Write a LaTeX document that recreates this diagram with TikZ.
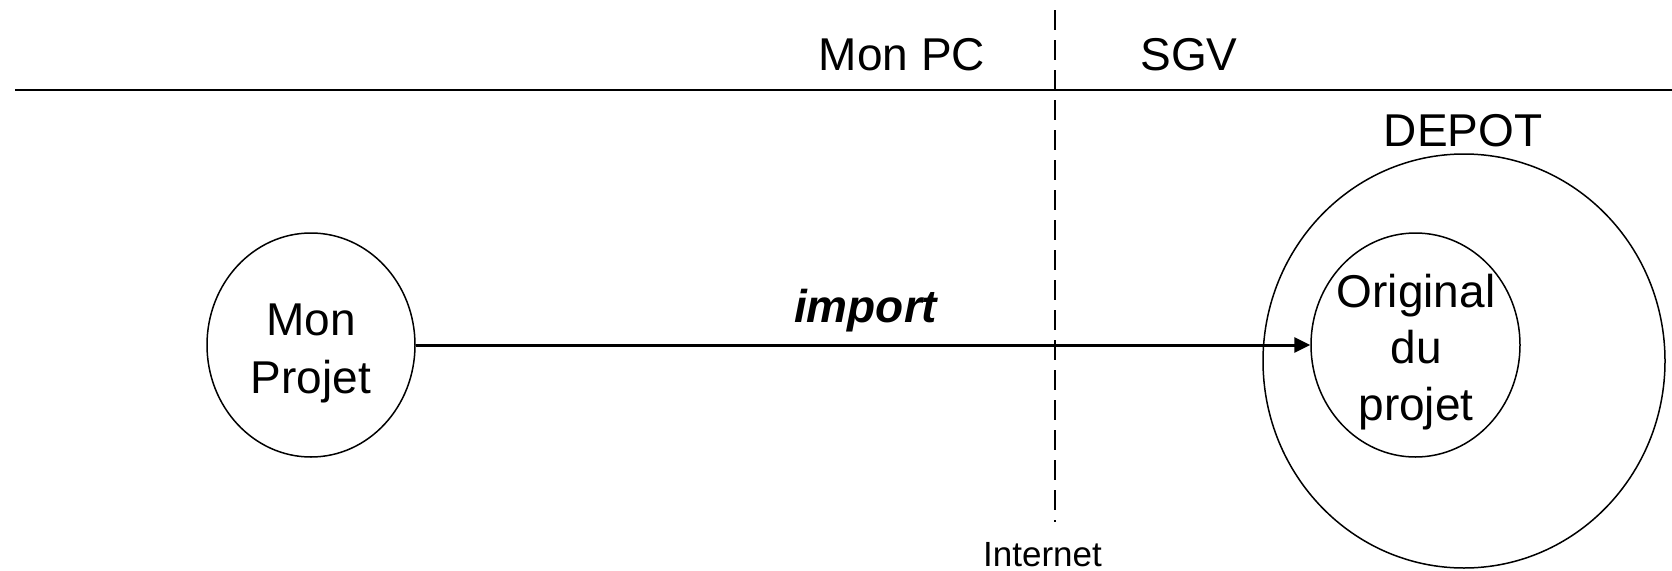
\documentclass[tikz,border=0pt]{standalone}
\usepackage{fontspec}
\setmainfont{Liberation Sans}
\usetikzlibrary{shapes.geometric,arrows.meta}
\begin{document}
\begin{tikzpicture}[x=1pt,y=-1pt,
  circ/.style={draw,ellipse,inner sep=0pt,line width=1.5pt},
  big/.style={font=\fontsize{46}{57}\selectfont,anchor=base,inner sep=0pt},
  small/.style={font=\fontsize{35}{42}\selectfont,anchor=base,inner sep=0pt}]
\useasboundingbox (0,0) rectangle (1672,570);
% separator lines
\coordinate (hl) at (15,89.5);
\coordinate (hr) at (1672,89.5);
\draw[line width=2pt] (hl) -- (hr);
\coordinate (vt) at (1055,10);
\coordinate (vb) at (1055,522);
\draw[line width=1.6pt,dash pattern=on 20pt off 10pt] (vt) -- (vb);
% labels
\node[big] (monpc) at (902,70) {Mon PC};
\node[big] (sgv) at (1189,70) {SGV};
\node[big] (depotlbl) at (1463,146) {DEPOT};
\node[small] (internet) at (1042.5,566) {Internet};
% circles
\node[circ,minimum width=208pt,minimum height=224pt] (proj) at (311,345) {};
\node[circ,minimum width=402pt,minimum height=414pt] (depot) at (1464,361) {};
\node[circ,minimum width=209pt,minimum height=224pt] (orig) at (1415.5,345) {};
% texts in circles
\node[big] (t1) at (311,335) {Mon};
\node[big] (t2) at (311,393) {Projet};
\node[big] (t3) at (1416,307) {Original};
\node[big] (t4) at (1416,363) {du};
\node[big] (t5) at (1416,420) {projet};
% arrow
\draw[line width=3pt,-{Triangle[length=16pt,width=15pt]}] (proj.east) -- (orig.west)
  node[pos=0.503,big,font=\fontsize{46}{57}\selectfont\bfseries\itshape,yshift=23pt] (import) {import};
\end{tikzpicture}
\end{document}
